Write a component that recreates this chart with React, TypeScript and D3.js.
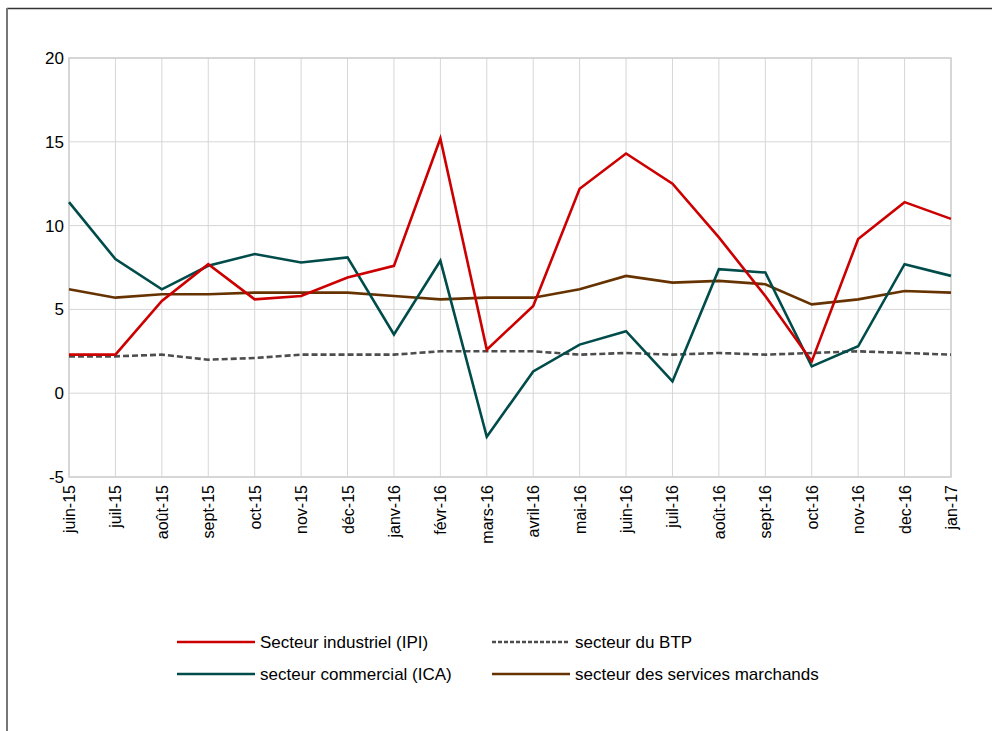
import React, { useEffect, useRef } from "react";
import * as d3 from "d3";

const months = [
  "juin-15", "juil-15", "août-15", "sept-15", "oct-15", "nov-15", "déc-15",
  "janv-16", "févr-16", "mars-16", "avril-16", "mai-16", "juin-16", "juil-16",
  "août-16", "sept-16", "oct-16", "nov-16", "dec-16", "jan-17",
];

const industriel = [
  2.3, 2.3, 5.5, 7.7, 5.6, 5.8, 6.9, 7.6, 15.2, 2.6, 5.2, 12.2, 14.3, 12.5,
  9.3, 5.8, 1.9, 9.2, 11.4, 10.4,
];
const btp = [
  2.2, 2.2, 2.3, 2.0, 2.1, 2.3, 2.3, 2.3, 2.5, 2.5, 2.5, 2.3, 2.4, 2.3, 2.4,
  2.3, 2.4, 2.5, 2.4, 2.3,
];
const commercial = [
  11.4, 8.0, 6.2, 7.6, 8.3, 7.8, 8.1, 3.5, 7.9, -2.6, 1.3, 2.9, 3.7, 0.7, 7.4,
  7.2, 1.6, 2.8, 7.7, 7.0,
];
const services = [
  6.2, 5.7, 5.9, 5.9, 6.0, 6.0, 6.0, 5.8, 5.6, 5.7, 5.7, 6.2, 7.0, 6.6, 6.7,
  6.5, 5.3, 5.6, 6.1, 6.0,
];

const yTicks = [-5, 0, 5, 10, 15, 20];

const series = [
  { name: "Secteur industriel (IPI)", values: industriel, color: "#cc0000", dash: "" },
  { name: "secteur du BTP", values: btp, color: "#4d4d4d", dash: "6,3" },
  { name: "secteur commercial (ICA)", values: commercial, color: "#004c4a", dash: "" },
  { name: "secteur des services marchands", values: services, color: "#663300", dash: "" },
];

const W = 992;
const H = 731;
const FONT = "'Liberation Sans', Arial, sans-serif";

export default function App() {
  const ref = useRef<SVGSVGElement>(null);

  useEffect(() => {
    if (!ref.current) return;
    const svg = d3.select(ref.current);
    svg.selectAll("*").remove();

    svg.append("rect").attr("width", W).attr("height", H).attr("fill", "#fff");

    // outer frame
    svg.append("line")
      .attr("x1", 7).attr("x2", W).attr("y1", 8.5).attr("y2", 8.5)
      .attr("stroke", "#333").attr("stroke-width", 1.5);
    svg.append("line")
      .attr("x1", 7).attr("x2", 7).attr("y1", 8).attr("y2", H)
      .attr("stroke", "#777").attr("stroke-width", 2);

    const left = 69, right = 951, top = 58, bottom = 477;

    const x = d3.scalePoint<string>().domain(months).range([left, right]);
    const y = d3.scaleLinear().domain([-5, 20]).range([bottom, top]);

    // grid
    const g = svg.append("g");
    g.selectAll("line.h")
      .data(yTicks)
      .join("line")
      .attr("x1", left).attr("x2", right)
      .attr("y1", (d) => y(d)).attr("y2", (d) => y(d))
      .attr("stroke", "#d6d6d6").attr("stroke-width", 1);
    g.selectAll("line.v")
      .data(months)
      .join("line")
      .attr("x1", (d) => x(d)!).attr("x2", (d) => x(d)!)
      .attr("y1", top).attr("y2", bottom)
      .attr("stroke", "#d6d6d6").attr("stroke-width", 1);

    // plot border (axes)
    svg.append("rect")
      .attr("x", left).attr("y", top)
      .attr("width", right - left).attr("height", bottom - top)
      .attr("fill", "none").attr("stroke", "#d0d0d0").attr("stroke-width", 1.5);

    // y labels
    svg.append("g")
      .selectAll("text")
      .data(yTicks)
      .join("text")
      .attr("x", left - 5)
      .attr("y", (d) => y(d) + 6)
      .attr("text-anchor", "end")
      .attr("font-family", FONT)
      .attr("font-size", 17)
      .attr("fill", "#000")
      .text((d) => String(d));

    // x labels
    svg.append("g")
      .selectAll("text")
      .data(months)
      .join("text")
      .attr("transform", (d) => `translate(${x(d)! + 6},${bottom + 8}) rotate(-90)`)
      .attr("text-anchor", "end")
      .attr("font-family", FONT)
      .attr("font-size", 16)
      .attr("fill", "#000")
      .text((d) => d);

    const line = d3
      .line<number>()
      .x((_, i) => x(months[i])!)
      .y((d) => y(d));

    const order = [1, 3, 2, 0];
    order.forEach((idx) => {
      const s = series[idx];
      svg.append("path")
        .datum(s.values)
        .attr("d", line)
        .attr("fill", "none")
        .attr("stroke", s.color)
        .attr("stroke-width", 2.6)
        .attr("stroke-dasharray", s.dash || null)
        .attr("stroke-linejoin", "miter");
    });

    // legend
    const legendPos = [
      { lx: 177, ly: 642 },
      { lx: 492, ly: 642 },
      { lx: 177, ly: 674 },
      { lx: 492, ly: 674 },
    ];
    series.forEach((s, i) => {
      const p = legendPos[i];
      const lg = svg.append("g");
      lg.append("line")
        .attr("x1", p.lx).attr("x2", p.lx + 78)
        .attr("y1", p.ly).attr("y2", p.ly)
        .attr("stroke", s.color)
        .attr("stroke-width", 2.6)
        .attr("stroke-dasharray", s.dash ? "4,2" : null);
      lg.append("text")
        .attr("x", p.lx + 83)
        .attr("y", p.ly + 6)
        .attr("font-family", FONT)
        .attr("font-size", 17)
        .attr("fill", "#000")
        .text(s.name);
    });
  }, []);

  return (
    <svg
      ref={ref}
      width={W}
      height={H}
      style={{ position: "absolute", left: 0, top: 0, display: "block" }}
    />
  );
}
